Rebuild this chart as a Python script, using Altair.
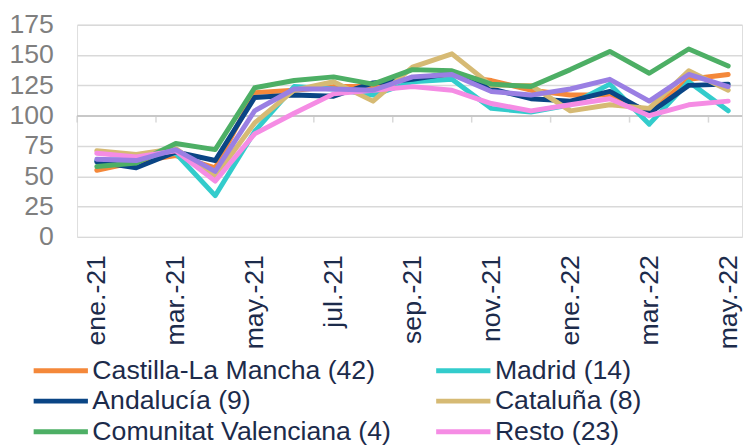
import json
import altair as alt
import pandas as pd

months = ["ene.-21", "feb.-21", "mar.-21", "abr.-21", "may.-21", "jun.-21",
          "jul.-21", "ago.-21", "sep.-21", "oct.-21", "nov.-21", "dic.-21",
          "ene.-22", "feb.-22", "mar.-22", "abr.-22", "may.-22"]

series_names = ["Castilla-La Mancha (42)", "Madrid (14)", "Andalucía (9)",
                "Cataluña (8)", "Comunitat Valenciana (4)", "Resto (23)"]

clm = [55, 62, 67, 57, 119, 121, 124, 124, 131, 133, 129, 121, 117, 117, 103, 130, 134]
madrid = [63, 64, 69, 34, 87, 124, 122, 117, 128, 130, 106, 103, 109, 126, 93, 128, 104]
andalucia = [62, 57, 70, 63, 115, 117, 116, 127, 130, 135, 122, 114, 112, 120, 102, 125, 126]
cataluna = [71, 68, 73, 50, 94, 121, 128, 112, 140, 151, 125, 125, 104, 109, 106, 137, 121]
valenciana = [58, 61, 77, 72, 123, 129, 132, 126, 138, 137, 126, 124, 138, 153, 135, 155, 141]
resto = [69, 66, 71, 46, 85, 102, 118, 121, 124, 121, 110, 104, 109, 114, 100, 109, 112]
total = [64, 63, 72, 54, 104, 122, 122, 121, 132, 134, 120, 117, 122, 130, 112, 134, 124]

colors = ["#F4883A", "#33CCCC", "#0A4585", "#D6BA74", "#4DAF65", "#F58CE4"]
total_color = "#9A7FE3"

y_ticks = [0, 25, 50, 75, 100, 125, 150, 175]

rows = []
for name, vals in zip(series_names, [clm, madrid, andalucia, cataluna, valenciana, resto]):
    for i, v in enumerate(vals):
        rows.append({"serie": name, "idx": i, "mes": months[i], "valor": v})
df = pd.DataFrame(rows)
df_total = pd.DataFrame({"idx": list(range(len(months))), "valor": total})
df_ticks = pd.DataFrame({"idx": [i - 0.5 for i in range(0, len(months) + 1, 2)],
                         "valor": [100] * 9})

FONT = "Liberation Sans, Arial, sans-serif"
TEXT_DARK = "#1C2B4B"
FS = 27

x_scale = alt.Scale(domain=[-0.5, 16.35], nice=False, zero=False)
y_scale = alt.Scale(domain=[0, 175], nice=False, zero=True)

label_expr = json.dumps(months) + "[datum.value]"

x_axis = alt.Axis(values=list(range(0, len(months), 2)), labelExpr=label_expr,
                  labelAngle=-90, labelFontSize=FS, labelFont=FONT,
                  labelColor=TEXT_DARK, labelPadding=18, ticks=False,
                  domain=False, grid=False, title=None)
y_axis = alt.Axis(values=y_ticks, labelFontSize=FS, labelFont=FONT,
                  labelColor="#7F7F7F", labelPadding=24, ticks=False,
                  domain=False, grid=True, gridColor="#D9D9D9", gridWidth=1.5,
                  title=None, minExtent=69)

X = alt.X("idx:Q", scale=x_scale, axis=x_axis)
Y = alt.Y("valor:Q", scale=y_scale, axis=y_axis)

LW = 5

base_line = alt.Chart(df).mark_line(strokeWidth=LW, strokeCap="round", strokeJoin="round").encode(
    x=X,
    y=Y,
    color=alt.Color("serie:N",
                    scale=alt.Scale(domain=series_names, range=colors),
                    sort=series_names,
                    legend=alt.Legend(title=None, orient="none", legendX=-30, legendY=337,
                                      direction="horizontal", columns=2,
                                      symbolType="M-2.5,0H2.5", symbolSize=484,
                                      symbolStrokeWidth=5, labelFontSize=FS,
                                      labelFont=FONT, labelColor=TEXT_DARK,
                                      columnPadding=35, rowPadding=3, labelOffset=18.5,
                                      labelLimit=400)),
)

total_line = alt.Chart(df_total).mark_line(strokeWidth=LW, strokeCap="round",
                                           strokeJoin="round", color=total_color).encode(
    x=X,
    y=Y,
)

axis_line = alt.Chart(df_ticks).mark_rule(color="#C8C8C8", strokeWidth=1.5).encode(
    y=Y,
)

axis_ticks = alt.Chart(df_ticks).mark_tick(color="#C8C8C8", thickness=1.5, size=7,
                                           orient="vertical", yOffset=3.5).encode(
    x=X,
    y=Y,
)

chart = alt.layer(axis_line, axis_ticks, base_line, total_line).properties(
    width=674, height=215,
    padding={"left": 0, "top": 0, "right": 0, "bottom": 0},
).configure_view(stroke=None).configure(font=FONT)

chart.save("out.html", embed_options={"renderer": "svg", "actions": False})
